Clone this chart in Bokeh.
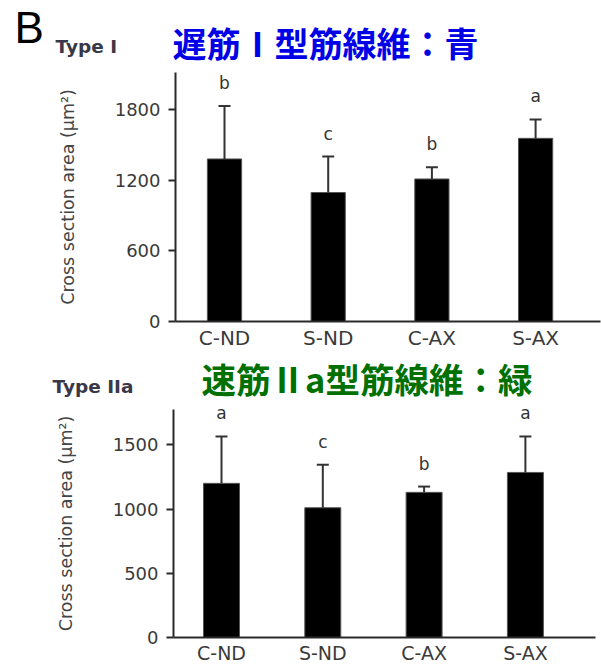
from bokeh.plotting import figure
from bokeh.models import Range1d, FixedTicker, LinearAxis, ColumnDataSource
from bokeh.core.properties import value
from bokeh.embed import file_html
from bokeh.resources import INLINE

# ---- data ----
categories = ["C-ND", "S-ND", "C-AX", "S-AX"]
type1_mean = [1380, 1095, 1210, 1555]
type1_sd = [450, 305, 100, 160]
type1_letters = ["b", "c", "b", "a"]
type1_ticks = [0, 600, 1200, 1800]
type1_ymax = 2114

type2a_mean = [1200, 1010, 1130, 1285]
type2a_sd = [365, 335, 45, 280]
type2a_letters = ["a", "c", "b", "a"]
type2a_ticks = [0, 500, 1000, 1500]
type2a_ymax = 1775

panel_letter = "B"
type1_label = "Type I"
type2a_label = "Type IIa"
type1_title = "遅筋Ⅰ型筋線維：青"
type2a_title = "速筋Ⅱa型筋線維：緑"
y_label = "Cross section area (μm²)"

# ---- layout (page pixels) ----
W, H = 601, 665
TXT = "#3a3a3a"
AX = "#2a2a2a"

p = figure(width=W, height=H, output_backend="svg", toolbar_location=None,
           x_range=Range1d(0, W), y_range=Range1d(H, 0),
           x_axis_type=None, y_axis_type=None,
           min_border_left=0, min_border_right=0, min_border_top=0, min_border_bottom=0)
p.outline_line_color = None
p.grid.visible = False


def add_panel(name, mean, sd, letters, ticks, y_max, zero_y, top_y, axis_x, c0, unit,
              x_end, bar_w, cat_font):
    s = y_max / (zero_y - top_y)
    xr, yr = "x" + name, "y" + name
    p.extra_x_ranges[xr] = Range1d(start=-c0 / unit, end=(W - c0) / unit)
    p.extra_y_ranges[yr] = Range1d(start=(zero_y - H) * s, end=zero_y * s)
    xs = list(range(len(categories)))
    src = ColumnDataSource(dict(
        x=xs, mean=mean, upper=[m + e for m, e in zip(mean, sd)], letter=letters))
    kw = dict(x_range_name=xr, y_range_name=yr, source=src)

    p.vbar(x="x", top="mean", width=bar_w, fill_color="black",
           line_color="#555555", line_width=1, **kw)
    p.segment(x0="x", y0="mean", x1="x", y1="upper", line_color="#333333",
              line_width=2, **kw)
    p.scatter(x="x", y="upper", marker="dash", size=12, line_color="#333333",
              line_width=2, **kw)
    p.text(x="x", y="upper", text="letter", y_offset=-23,
           text_align="center", text_baseline="middle",
           text_font=value("DejaVu Sans"), text_font_size="17px",
           text_color="#333333", **kw)

    x_left = (axis_x - c0) / unit
    ya = LinearAxis(x_range_name=xr, y_range_name=yr, fixed_location=x_left,
                    bounds=(0, y_max), ticker=FixedTicker(ticks=ticks))
    ya.major_tick_out = 7
    ya.major_tick_in = 0
    ya.minor_tick_out = 0
    ya.minor_tick_in = 0
    ya.major_tick_line_width = 2
    ya.major_tick_line_color = AX
    ya.axis_line_width = 2
    ya.axis_line_color = AX
    ya.major_label_standoff = 8
    ya.major_label_text_font = "DejaVu Sans"
    ya.major_label_text_font_size = "18px"
    ya.major_label_text_color = TXT
    ya.axis_label = y_label
    ya.axis_label_text_font = "DejaVu Sans"
    ya.axis_label_text_font_style = "normal"
    ya.axis_label_text_font_size = "17.5px"
    ya.axis_label_text_color = "#444444"
    ya.axis_label_standoff = 34
    p.add_layout(ya, "left")

    xa = LinearAxis(x_range_name=xr, y_range_name=yr, fixed_location=0,
                    bounds=(x_left, (x_end - c0) / unit), ticker=FixedTicker(ticks=xs))
    xa.major_label_overrides = {i: c for i, c in enumerate(categories)}
    xa.major_tick_out = 0
    xa.major_tick_in = 0
    xa.minor_tick_out = 0
    xa.minor_tick_in = 0
    xa.axis_line_width = 2
    xa.axis_line_color = AX
    xa.major_label_standoff = 4
    xa.major_label_text_font = "DejaVu Sans"
    xa.major_label_text_font_size = cat_font
    xa.major_label_text_color = TXT
    p.add_layout(xa, "below")


add_panel("1", type1_mean, type1_sd, type1_letters, type1_ticks, type1_ymax,
          zero_y=321, top_y=72, axis_x=175, c0=224, unit=103.7, x_end=600,
          bar_w=0.33, cat_font="20px")
add_panel("2", type2a_mean, type2a_sd, type2a_letters, type2a_ticks, type2a_ymax,
          zero_y=637, top_y=409, axis_x=173, c0=221, unit=101.3, x_end=595,
          bar_w=0.355, cat_font="19px")

# ---- headings ----
p.text(x=[14], y=[26.5], text=[panel_letter], text_font=value("Liberation Sans"),
       text_font_size="44px", text_color="black", text_baseline="middle")
p.text(x=[55], y=[45.5], text=[type1_label], text_font=value("DejaVu Sans"),
       text_font_style="bold", text_font_size="18.5px", text_color="#383848",
       text_baseline="middle")
p.text(x=[172], y=[42], text=[type1_title], text_font=value("Noto Sans CJK JP"),
       text_font_style="bold", text_font_size="34px", text_color="#0000e6",
       text_baseline="middle")
p.text(x=[52], y=[385.5], text=[type2a_label], text_font=value("DejaVu Sans"),
       text_font_style="bold", text_font_size="18.5px", text_color="#383848",
       text_baseline="middle")
p.text(x=[201], y=[377], text=[type2a_title], text_font=value("Noto Sans CJK JP"),
       text_font_style="bold", text_font_size="34.5px", text_color="#007000",
       text_baseline="middle")

open("out.html", "w").write(file_html(p, INLINE))
